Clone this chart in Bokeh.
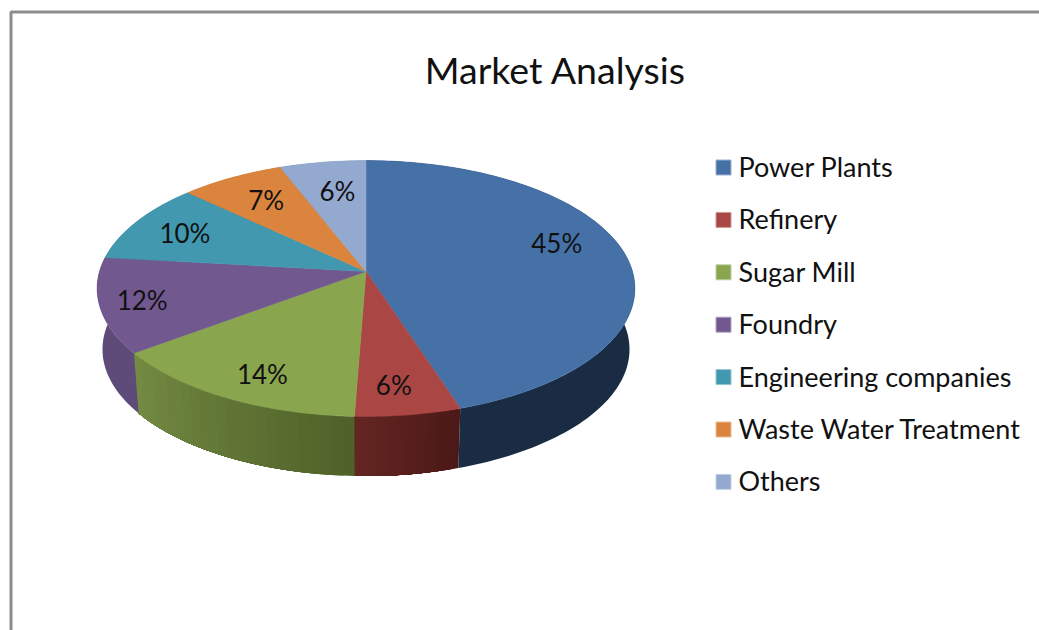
import math
from bokeh.plotting import figure
from bokeh.models import Range1d
from bokeh.core.properties import value
from bokeh.embed import file_html
from bokeh.resources import INLINE

TITLE = "Market Analysis"
categories = ["Power Plants", "Refinery", "Sugar Mill", "Foundry",
              "Engineering companies", "Waste Water Treatment", "Others"]
shares = [45.0, 5.6, 14.2, 12.0, 10.2, 7.1, 5.9]
top_colors = ["#4571a7", "#aa4644", "#89a54e", "#71588f", "#4198af", "#db843d", "#93a9cf"]
side_left = ["#1a2c43", "#652622", "#748b43", "#5f4b79", "#367f93", "#b96f33", "#7d90b0"]
side_right = ["#1a2c43", "#4a1917", "#4e6128", "#5f4b79", "#367f93", "#b96f33", "#7d90b0"]

FONT = "Lato"
CX, CY, RX, RY, K = 365.5, 271.0, 266.5, 125.7, 0.133
DEPTH, BOTTOM_SX, BOTTOM_SY = 61.0, 0.98, 0.99
LABEL_R = [0.72, 0.82, 0.84, 0.87, 0.75, 0.70, 0.75]
LABEL_NUDGE = [(4, -15), (-6, -1), (12, -1), (7, -1), (-7, 0), (-3, -4), (5, 4)]


def project(pct, r=1.0, sx=1.0, sy=1.0, dy=0.0):
    t = 2 * math.pi * pct / 100.0
    X, Y = r * math.sin(t), -r * math.cos(t)
    w = 1 - K * Y
    return CX + sx * RX * X / w, CY + dy + sy * RY * Y / w


def mix(a, b, f):
    ca = [int(a[i:i + 2], 16) for i in (1, 3, 5)]
    cb = [int(b[i:i + 2], 16) for i in (1, 3, 5)]
    return "#%02x%02x%02x" % tuple(round(p + (q - p) * f) for p, q in zip(ca, cb))


def rim_polygon(a, b):
    n = max(4, int((b - a) * 3))
    steps = [a + (b - a) * i / n for i in range(n + 1)]
    top = [project(s) for s in steps]
    bot = [project(s, sx=BOTTOM_SX, sy=BOTTOM_SY, dy=DEPTH) for s in reversed(steps)]
    pts = top + bot
    return [q[0] for q in pts], [q[1] for q in pts]


p = figure(width=1039, height=630, output_backend="svg", toolbar_location=None,
           x_range=Range1d(0, 1039), y_range=Range1d(630, 0),
           min_border=0, outline_line_color=None, background_fill_color="white",
           border_fill_color="white")
p.axis.visible = False
p.grid.visible = False

# chart frame, top and left edges
p.line([10.5, 10.5, 1039], [630, 11.5, 11.5], line_color="#8c8c8c", line_width=3)

cum = 0.0
bounds = []
for s in shares:
    bounds.append((cum, cum + s))
    cum += s

# rim: each band is painted from its start to the slice's end, so no seams show
for (a, b), cl, cr in zip(bounds, side_left, side_right):
    n = 1 if cl == cr else 24
    for i in range(n):
        start = a + (b - a) * i / n
        c = mix(cr, cl, (i + 0.5) / n)
        xs, ys = rim_polygon(start, b)
        p.patch(xs, ys, fill_color=c, line_color=None)

# top face
for (a, b), c in zip(bounds, top_colors):
    n = max(6, int((b - a) * 4))
    pts = [project(a + (b - a) * i / n) for i in range(n + 1)]
    xs = [CX] + [q[0] for q in pts]
    ys = [CY] + [q[1] for q in pts]
    p.patch(xs, ys, fill_color=c, line_color=c, line_width=0.5)

# percentage labels
for (a, b), s, r, (nx, ny) in zip(bounds, shares, LABEL_R, LABEL_NUDGE):
    x, y = project((a + b) / 2, r=r)
    p.text([x + nx], [y + ny], text=["%d%%" % round(s)], text_font=value(FONT),
           text_font_size="26px", text_color="#111111",
           text_align="center", text_baseline="middle")

# title
p.text([555], [69], text=[TITLE], text_font=value(FONT), text_font_size="37.5px",
       text_color="#111111", text_align="center", text_baseline="middle")

# legend
LEG_TOP, LEG_STEP = 167.0, 52.4
for i, (name, c) in enumerate(zip(categories, top_colors)):
    y = LEG_TOP + i * LEG_STEP
    p.rect([723], [y], width=15, height=15, fill_color=c, line_color=mix(c, "#ffffff", 0.45), line_width=1)
    p.text([738], [y - 1], text=[name], text_font=value(FONT), text_font_size="27px",
           text_color="#111111", text_align="left", text_baseline="middle")

open("out.html", "w").write(file_html(p, INLINE))
